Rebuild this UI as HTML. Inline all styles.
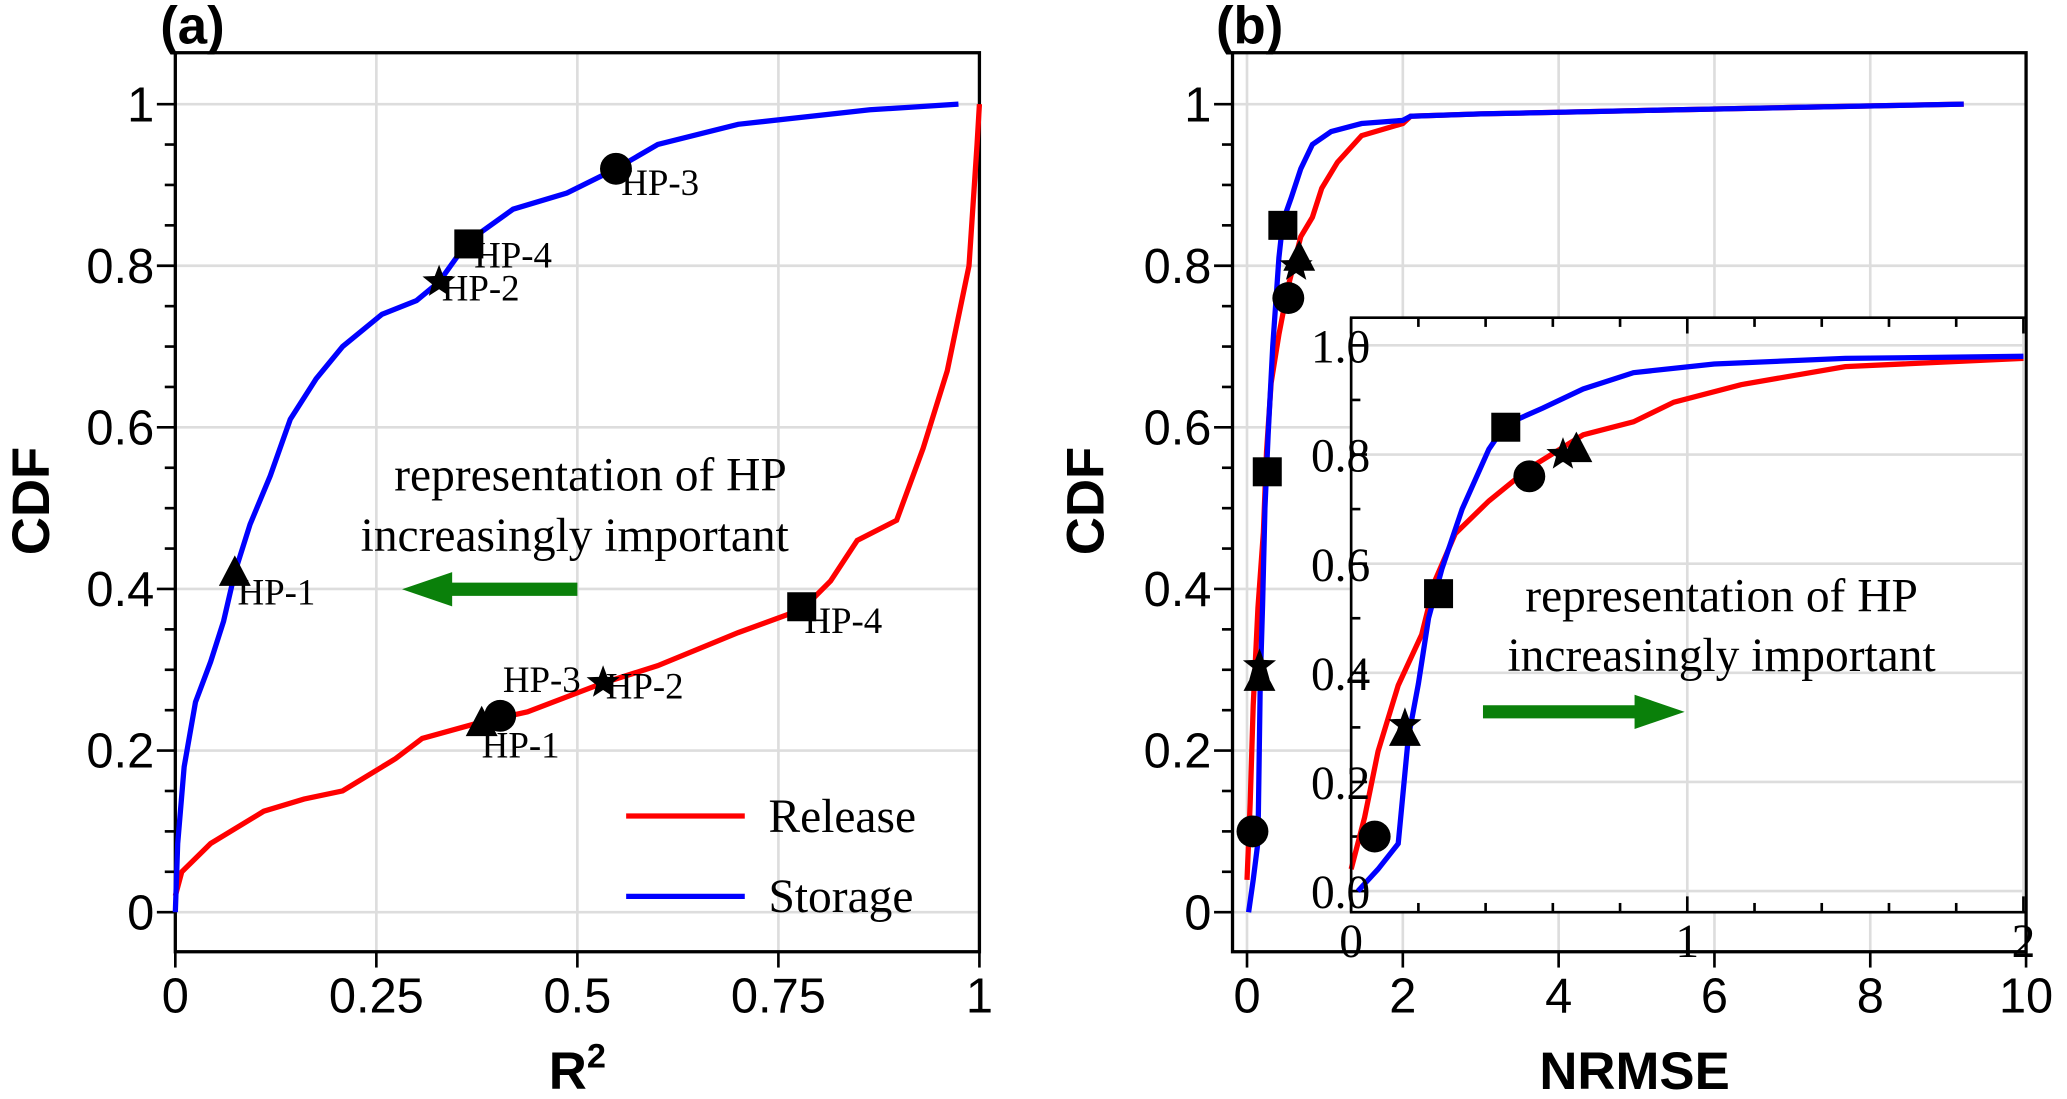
<!DOCTYPE html>
<html><head><meta charset="utf-8"><style>
html,body{margin:0;padding:0;background:#fff}
svg text{font-family:"Liberation Sans",sans-serif}
.serif{font-family:"Liberation Serif",serif}
</style></head><body>
<svg id="chart" width="2067" height="1094" viewBox="0 0 2067 1094" xmlns="http://www.w3.org/2000/svg">
<g transform="scale(1.3182)">
<g id="a"></g>
<g id="b"></g>
<g id="ins"></g>
</g>
</svg>
<script>
// Panel (a) data: R2 vs CDF
const aStorageX=[0,0.003,0.011,0.025,0.044,0.06,0.074,0.093,0.118,0.143,0.175,0.208,0.257,0.30,0.328,0.364,0.42,0.487,0.548,0.60,0.70,0.864,0.974];
const aStorageY=[0,0.085,0.18,0.26,0.31,0.36,0.42,0.48,0.54,0.61,0.66,0.70,0.74,0.757,0.78,0.83,0.87,0.89,0.92,0.95,0.975,0.993,1.0];
const aReleaseX=[0,0.008,0.044,0.11,0.16,0.208,0.274,0.307,0.38,0.438,0.533,0.60,0.70,0.78,0.815,0.848,0.897,0.93,0.96,0.987,0.997,1.0];
const aReleaseY=[0.02,0.05,0.085,0.125,0.14,0.15,0.19,0.215,0.235,0.248,0.284,0.305,0.346,0.375,0.41,0.46,0.485,0.574,0.67,0.80,0.95,1.0];
const aMarkerX=[0.074,0.328,0.548,0.365,0.381,0.404,0.532,0.779];
const aMarkerY=[0.42,0.78,0.92,0.827,0.234,0.243,0.284,0.378];
const aMarkerShape=['tri','star','circ','sq','tri','circ','star','sq'];
const aMarkerLabel=['HP-1','HP-2','HP-3','HP-4','HP-1','HP-3','HP-2','HP-4'];
const aLabelDX=[2,2,4,4,0,2,2,2];
const aLabelDY=[38,28,34,32,40,-4,26,34];
const aXTicks=[0,0.25,0.5,0.75,1];
const aXTickLabels=['0','0.25','0.5','0.75','1'];
const yTicks=[0,0.2,0.4,0.6,0.8,1];
const yTickLabels=['0','0.2','0.4','0.6','0.8','1'];
// Panel (b) data: NRMSE vs CDF
const bStorageX=[0.02,0.08,0.14,0.17,0.2,0.23,0.27,0.33,0.41,0.46,0.57,0.69,0.84,1.08,1.47,2.0,2.1,3,5,7,9.2];
const bStorageY=[0,0.04,0.087,0.28,0.38,0.5,0.59,0.7,0.81,0.855,0.885,0.92,0.95,0.966,0.976,0.98,0.985,0.988,0.992,0.996,1.0];
const bReleaseX=[0,0.04,0.08,0.14,0.21,0.25,0.31,0.41,0.53,0.69,0.84,0.96,1.16,1.47,2.0,2.1,3,5,7,9.2];
const bReleaseY=[0.04,0.135,0.256,0.377,0.47,0.57,0.655,0.715,0.775,0.836,0.86,0.896,0.928,0.961,0.976,0.985,0.988,0.992,0.996,1.0];
const bMarkerX=[0.07,0.16,0.16,0.26,0.46,0.53,0.63,0.67];
const bMarkerY=[0.1,0.29,0.305,0.545,0.85,0.76,0.80,0.81];
const bMarkerShape=['circ','tri','star','sq','sq','circ','star','tri'];
const bXTicks=[0,2,4,6,8,10];
const insXTicks=[0,1,2];
const insYTicks=[0,0.2,0.4,0.6,0.8,1.0];
const insYTickLabels=['0.0','0.2','0.4','0.6','0.8','1.0'];

const NS='http://www.w3.org/2000/svg';
function mk(parent,tag,attrs,text){const e=document.createElementNS(NS,tag);for(const k in attrs)e.setAttribute(k,attrs[k]);if(text!==undefined)e.textContent=text;parent.appendChild(e);return e;}
function path(xs,ys,sx,sy){return xs.map((v,i)=>(i?'L':'M')+sx(v).toFixed(1)+','+sy(ys[i]).toFixed(1)).join('');}
function marker(g,shape,x,y,s){
  let e;
  if(shape==='circ')e=mk(g,'circle',{cx:x,cy:y,r:s*0.55,fill:'#000'});
  else if(shape==='sq')e=mk(g,'rect',{x:x-s*0.5,y:y-s*0.5,width:s,height:s,fill:'#000'});
  else if(shape==='tri')e=mk(g,'polygon',{points:`${x},${y-s*0.6} ${x-s*0.55},${y+s*0.45} ${x+s*0.55},${y+s*0.45}`,fill:'#000'});
  else{let p=[];for(let i=0;i<10;i++){const r=i%2?s*0.25:s*0.6;const a=-Math.PI/2+i*Math.PI/5;p.push((x+r*Math.cos(a)).toFixed(1)+','+(y+r*Math.sin(a)).toFixed(1));}e=mk(g,'polygon',{points:p.join(' '),fill:'#000'});}
  
  
}
function arrow(g,x1,x2,y){
  const dir=Math.sign(x2-x1);
  const l=mk(g,'line',{x1:x1,y1:y,x2:x2-dir*36,y2:y,stroke:'#0a800a','stroke-width':10});
  
  
  const h=mk(g,'polygon',{points:`${x2},${y} ${x2-dir*38},${y-13} ${x2-dir*38},${y+13}`,fill:'#0a800a'});
  
  
}
function frame(g,L,R,T,B,sx,sy,xt,xtl,name){
  xt.forEach(v=>{const l=mk(g,'line',{x1:sx(v),x2:sx(v),y1:T,y2:B,stroke:'#ddd','stroke-width':2});});
  yTicks.forEach(v=>{const l=mk(g,'line',{x1:L,x2:R,y1:sy(v),y2:sy(v),stroke:'#ddd','stroke-width':2});});
  for(let v=0;v<=1.0001;v+=0.05){const big=Math.abs(v*5-Math.round(v*5))<1e-6;const l=mk(g,'line',{x1:L-(big?14:8),x2:L,y1:sy(v),y2:sy(v),stroke:'#000','stroke-width':2});}
  yTicks.forEach((v,i)=>{const t=mk(g,'text',{x:L-16,y:sy(v)+13,'font-size':37,'text-anchor':'end'},yTickLabels[i]);});
  xt.forEach((v,i)=>{const l=mk(g,'line',{x1:sx(v),x2:sx(v),y1:B,y2:B+12,stroke:'#000','stroke-width':2});
    const t=mk(g,'text',{x:sx(v),y:B+46,'font-size':37,'text-anchor':'middle'},xtl[i]);});
  const r=mk(g,'rect',{x:L,y:T,width:R-L,height:B-T,fill:'none',stroke:'#000','stroke-width':2.5});
  
  
}
(function(){
const g=document.getElementById('a');
const L=133,R=743,T=40,B=722;
const sx=v=>133+v*610, sy=v=>692-v*613;
frame(g,L,R,T,B,sx,sy,aXTicks,aXTickLabels,'panel-a');
let p=mk(g,'path',{d:path(aReleaseX,aReleaseY,sx,sy),fill:'none',stroke:'#ff0000','stroke-width':4});

p=mk(g,'path',{d:path(aStorageX,aStorageY,sx,sy),fill:'none',stroke:'#0000ff','stroke-width':4});

aMarkerX.forEach((v,i)=>{marker(g,aMarkerShape[i],sx(v),sy(aMarkerY[i]),22);
  const t=mk(g,'text',{x:sx(v)+aLabelDX[i],y:sy(aMarkerY[i])+aLabelDY[i]-14,'font-size':28,class:'serif'},aMarkerLabel[i]);
  });
let t=mk(g,'text',{x:448,y:372,'font-size':36,'text-anchor':'middle',class:'serif'},'representation of HP');
t=mk(g,'text',{x:436,y:418,'font-size':36,'text-anchor':'middle',class:'serif'},'increasingly important');
arrow(g,438,305,447);
let l=mk(g,'line',{x1:475,x2:565,y1:619,y2:619,stroke:'#ff0000','stroke-width':4});
t=mk(g,'text',{x:583,y:631,'font-size':36,class:'serif'},'Release');
l=mk(g,'line',{x1:475,x2:565,y1:680,y2:680,stroke:'#0000ff','stroke-width':4});
t=mk(g,'text',{x:583,y:692,'font-size':36,class:'serif'},'Storage');
t=mk(g,'text',{x:146,y:33,'font-size':40,'font-weight':'bold','text-anchor':'middle'},'(a)');
t=mk(g,'text',{x:438,y:826,'font-size':40,'font-weight':'bold','text-anchor':'middle'});t.innerHTML='R<tspan font-size="26" dy="-16">2</tspan>';
t=mk(g,'text',{x:0,y:0,'font-size':40,'font-weight':'bold','text-anchor':'middle',transform:'translate(37,380) rotate(-90)'},'CDF');
})();
(function(){
const g=document.getElementById('b');
const L=935,R=1537,T=40,B=722;
const sx=v=>946+v*59.1, sy=v=>692-v*613;
frame(g,L,R,T,B,sx,sy,bXTicks,bXTicks.map(String),'panel-b');
let p=mk(g,'path',{d:path(bReleaseX,bReleaseY,sx,sy),fill:'none',stroke:'#ff0000','stroke-width':4});

p=mk(g,'path',{d:path(bStorageX,bStorageY,sx,sy),fill:'none',stroke:'#0000ff','stroke-width':4});

bMarkerX.forEach((v,i)=>marker(g,bMarkerShape[i],sx(v),sy(bMarkerY[i]),22));
let t=mk(g,'text',{x:948,y:33,'font-size':40,'font-weight':'bold','text-anchor':'middle'},'(b)');
t=mk(g,'text',{x:1240,y:826,'font-size':40,'font-weight':'bold','text-anchor':'middle'},'NRMSE');
t=mk(g,'text',{x:0,y:0,'font-size':40,'font-weight':'bold','text-anchor':'middle',transform:'translate(837,380) rotate(-90)'},'CDF');
})();
(function(){
const g=document.getElementById('ins');
const L=1025,R=1537,T=241,B=692;
const sx=v=>1025+v*255, sy=v=>676-v*414;
let r=mk(g,'rect',{x:L,y:T,width:R-L,height:B-T,fill:'#fff'});
insXTicks.forEach(v=>{const l=mk(g,'line',{x1:sx(v),x2:sx(v),y1:T,y2:B,stroke:'#ddd','stroke-width':2});});
insYTicks.forEach(v=>{const l=mk(g,'line',{x1:L,x2:R,y1:sy(v),y2:sy(v),stroke:'#ddd','stroke-width':2});});
for(let v=0;v<=1.0001;v+=0.1){const big=Math.abs(v*5-Math.round(v*5))<1e-6;const l=mk(g,'line',{x1:L,x2:L+(big?12:7),y1:sy(v),y2:sy(v),stroke:'#000','stroke-width':2});}
for(let v=0;v<=2.0001;v+=0.2){const big=Math.abs(v-Math.round(v))<1e-6;[[T,T+(big?12:7)],[B,B-(big?12:7)]].forEach(yy=>{const l=mk(g,'line',{x1:sx(v),x2:sx(v),y1:yy[0],y2:yy[1],stroke:'#000','stroke-width':2});});}
let p=mk(g,'path',{d:path(bReleaseX.filter(v=>v<=2),bReleaseY,sx,sy),fill:'none',stroke:'#ff0000','stroke-width':4});

p=mk(g,'path',{d:path(bStorageX.filter(v=>v<=2),bStorageY,sx,sy),fill:'none',stroke:'#0000ff','stroke-width':4});

bMarkerX.forEach((v,i)=>marker(g,bMarkerShape[i],sx(v),sy(bMarkerY[i]),22));
insYTicks.forEach((v,i)=>{const t=mk(g,'text',{x:L-8,y:sy(v)+13,'font-size':36,'text-anchor':'middle',class:'serif'},insYTickLabels[i]);});
insXTicks.forEach(v=>{const t=mk(g,'text',{x:sx(v),y:B+34,'font-size':36,'text-anchor':'middle',class:'serif'},String(v));});
r=mk(g,'rect',{x:L,y:T,width:R-L,height:B-T,fill:'none',stroke:'#000','stroke-width':2});
let t=mk(g,'text',{x:1306,y:464,'font-size':36,'text-anchor':'middle',class:'serif'},'representation of HP');
t=mk(g,'text',{x:1306,y:509,'font-size':36,'text-anchor':'middle',class:'serif'},'increasingly important');
arrow(g,1125,1278,540);
})();
</script>
</body></html>
